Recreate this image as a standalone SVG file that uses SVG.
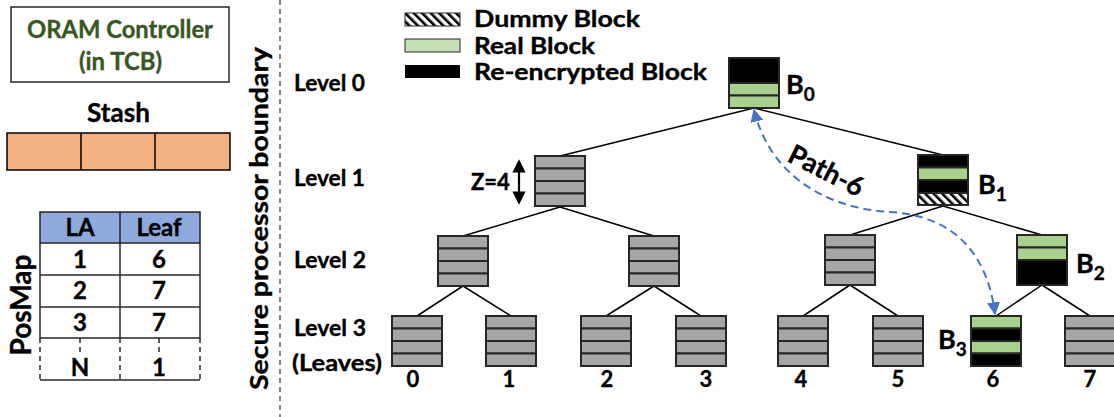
<svg xmlns="http://www.w3.org/2000/svg" width="1114" height="417" viewBox="0 0 1114 417">
  <style>
    text { font-family: Lato, "Liberation Sans", sans-serif; font-weight: bold; fill: #000; stroke: #000; stroke-width: 0.35; }
    .lvl { font-size: 22px; }
    .leg { font-size: 22px; }
    .num { font-size: 22px; text-anchor: middle; }
    .cell { font-size: 24px; text-anchor: middle; }
    .blab { font-size: 27px; }
    .sub { font-size: 19px; }
    .edge { stroke: #000; stroke-width: 1.5; fill: none; }
    .bx { stroke: #262626; stroke-width: 2; }
    .gray { fill: #A6A6A6; }
    .green { fill: #A9D18E; }
    .black { fill: #000; }
    .hatch { fill: url(#hatch); }
    .olive { fill: #385723; stroke: #385723; }
  </style>
  <defs>
    <pattern id="hatch" patternUnits="userSpaceOnUse" width="6" height="6" patternTransform="rotate(-45)">
      <rect width="6" height="6" fill="#fff"/>
      <rect width="2.6" height="6" fill="#000"/>
    </pattern>
    <!-- generic 4-slot bucket (Z=4), 50x50 -->
    <g id="bucket">
      <rect class="bx gray" x="0" y="0" width="50" height="12.5"/>
      <rect class="bx gray" x="0" y="12.5" width="50" height="12.5"/>
      <rect class="bx gray" x="0" y="25" width="50" height="12.5"/>
      <rect class="bx gray" x="0" y="37.5" width="50" height="12.5"/>
    </g>
    <marker id="blueHead" viewBox="0 0 10 10" refX="9" refY="5" markerWidth="6.5" markerHeight="6.5" orient="auto-start-reverse" markerUnits="strokeWidth">
      <path d="M0,0 L10,5 L0,10 z" fill="#4472C4"/>
    </marker>
    <marker id="blackHead" viewBox="0 0 10 10" refX="8" refY="5" markerWidth="6" markerHeight="6" orient="auto-start-reverse" markerUnits="strokeWidth">
      <path d="M0,0 L10,5 L0,10 z" fill="#000"/>
    </marker>
  </defs>

  <rect width="1114" height="417" fill="#fff"/>

  <!-- controller box -->
  <g id="controller">
    <rect x="11" y="7" width="218" height="75" fill="#fff" stroke="#262626" stroke-width="1.5"/>
    <text class="olive" x="27" y="38" font-size="24" textLength="186" lengthAdjust="spacingAndGlyphs">ORAM Controller</text>
    <text class="olive" x="79" y="70" font-size="24" textLength="83" lengthAdjust="spacingAndGlyphs">(in TCB)</text>
  </g>

  <!-- stash -->
  <g id="stash">
    <text x="87" y="122" font-size="26" textLength="63" lengthAdjust="spacingAndGlyphs">Stash</text>
    <rect x="7" y="133" width="223" height="37" fill="#F4B183" stroke="#000" stroke-width="1.5"/>
    <line x1="81" y1="133" x2="81" y2="170" stroke="#000" stroke-width="1.5"/>
    <line x1="155" y1="133" x2="155" y2="170" stroke="#000" stroke-width="1.5"/>
  </g>

  <!-- position map -->
  <g id="posmap">
    <text transform="translate(31,305) rotate(-90)" text-anchor="middle" font-size="28">PosMap</text>
    <rect x="40" y="212" width="160" height="31" fill="#8FAADC"/>
    <g stroke="#262626" stroke-width="1.5" fill="none">
      <rect x="40" y="212" width="160" height="126"/>
      <line x1="40" y1="243" x2="200" y2="243"/>
      <line x1="40" y1="275" x2="200" y2="275"/>
      <line x1="40" y1="307" x2="200" y2="307"/>
      <line x1="120" y1="212" x2="120" y2="338"/>
      <line x1="40" y1="380" x2="200" y2="380"/>
    </g>
    <g stroke="#262626" stroke-width="1.5" stroke-dasharray="5,4" fill="none">
      <line x1="40" y1="338" x2="40" y2="380"/>
      <line x1="120" y1="338" x2="120" y2="380"/>
      <line x1="200" y1="338" x2="200" y2="380"/>
      <line x1="80" y1="338" x2="80" y2="354"/>
      <line x1="159" y1="338" x2="159" y2="354"/>
    </g>
    <text class="cell" x="80" y="236">LA</text>
    <text class="cell" x="159" y="236">Leaf</text>
    <text class="cell" x="80" y="268">1</text>
    <text class="cell" x="159" y="268">6</text>
    <text class="cell" x="80" y="299">2</text>
    <text class="cell" x="159" y="299">7</text>
    <text class="cell" x="80" y="331">3</text>
    <text class="cell" x="159" y="331">7</text>
    <text class="cell" x="80" y="376">N</text>
    <text class="cell" x="159" y="376">1</text>
  </g>

  <!-- secure processor boundary -->
  <g id="boundary">
    <line x1="280" y1="0" x2="280" y2="417" stroke="#595959" stroke-width="1.5" stroke-dasharray="5,4"/>
    <text transform="translate(268,390) rotate(-90)" font-size="25" textLength="343" lengthAdjust="spacingAndGlyphs">Secure processor boundary</text>
  </g>

  <!-- level labels -->
  <g id="levels">
    <text class="lvl" x="294" y="91" textLength="71" lengthAdjust="spacingAndGlyphs">Level 0</text>
    <text class="lvl" x="294" y="186" textLength="71" lengthAdjust="spacingAndGlyphs">Level 1</text>
    <text class="lvl" x="294" y="268" textLength="72" lengthAdjust="spacingAndGlyphs">Level 2</text>
    <text class="lvl" x="294" y="336" textLength="72" lengthAdjust="spacingAndGlyphs">Level 3</text>
    <text class="lvl" x="292" y="371" textLength="90" lengthAdjust="spacingAndGlyphs">(Leaves)</text>
  </g>

  <!-- legend -->
  <g id="legend">
    <rect x="405" y="13" width="55" height="13" class="hatch" stroke="#262626" stroke-width="1"/>
    <text class="leg" x="474" y="27" textLength="166" lengthAdjust="spacingAndGlyphs">Dummy Block</text>
    <rect x="405" y="39" width="55" height="13" fill="#C5E0B4" stroke="#262626" stroke-width="1"/>
    <text class="leg" x="474" y="54" textLength="121" lengthAdjust="spacingAndGlyphs">Real Block</text>
    <rect x="405" y="65" width="55" height="13" fill="#000"/>
    <text class="leg" x="474" y="80" textLength="233" lengthAdjust="spacingAndGlyphs">Re-encrypted Block</text>
  </g>

  <!-- tree edges -->
  <g id="connectors">
    <line class="edge" x1="754" y1="108" x2="560" y2="156"/>
    <line class="edge" x1="754" y1="108" x2="943" y2="155"/>
    <line class="edge" x1="560" y1="207" x2="463" y2="236"/>
    <line class="edge" x1="560" y1="207" x2="654" y2="236"/>
    <line class="edge" x1="943" y1="206" x2="850" y2="235"/>
    <line class="edge" x1="943" y1="206" x2="1042" y2="235"/>
    <line class="edge" x1="463" y1="286" x2="417" y2="316"/>
    <line class="edge" x1="463" y1="286" x2="511" y2="316"/>
    <line class="edge" x1="654" y1="286" x2="606" y2="316"/>
    <line class="edge" x1="654" y1="286" x2="701" y2="316"/>
    <line class="edge" x1="850" y1="285" x2="803" y2="316"/>
    <line class="edge" x1="850" y1="285" x2="898" y2="316"/>
    <line class="edge" x1="1042" y1="285" x2="996" y2="316"/>
    <line class="edge" x1="1042" y1="285" x2="1090" y2="316"/>
    <!-- accessed path -->
    <path d="M 754,110 C 772,182 835,209 890,212 C 958,216 988,258 995,314" fill="none" stroke="#4472C4" stroke-width="2" stroke-dasharray="8,5" marker-start="url(#blueHead)" marker-end="url(#blueHead)"/>
  </g>

  <!-- level 0 -->
  <g id="b0">
    <rect class="bx black" x="729" y="58" width="50" height="25"/>
    <rect class="bx green" x="729" y="83" width="50" height="12.5"/>
    <rect class="bx green" x="729" y="95.5" width="50" height="12.5"/>
    <text class="blab" x="786" y="94">B<tspan class="sub" dy="7">0</tspan></text>
  </g>

  <!-- level 1 -->
  <g id="n1a">
    <use href="#bucket" x="535" y="156"/>
    <text font-size="22" x="471" y="190">Z=4</text>
    <line x1="519" y1="162" x2="519" y2="202" stroke="#000" stroke-width="2.2" marker-start="url(#blackHead)" marker-end="url(#blackHead)"/>
  </g>
  <g id="b1">
    <rect class="bx black" x="918" y="155" width="50" height="12.5"/>
    <rect class="bx green" x="918" y="167.5" width="50" height="12.5"/>
    <rect class="bx black" x="918" y="180" width="50" height="13"/>
    <rect class="bx hatch" x="918" y="193" width="50" height="12"/>
    <text class="blab" x="978" y="194">B<tspan class="sub" dy="7">1</tspan></text>
  </g>

  <!-- level 2 -->
  <g id="n2a"><use href="#bucket" x="438" y="236"/></g>
  <g id="n2b"><use href="#bucket" x="629" y="236"/></g>
  <g id="n2c"><use href="#bucket" x="825" y="235"/></g>
  <g id="b2">
    <rect class="bx green" x="1017" y="235" width="50" height="12.5"/>
    <rect class="bx green" x="1017" y="247.5" width="50" height="12.5"/>
    <rect class="bx black" x="1017" y="260" width="50" height="25"/>
    <text class="blab" x="1076" y="273">B<tspan class="sub" dy="7">2</tspan></text>
  </g>

  <!-- level 3 (leaves) -->
  <g id="leaf0"><use href="#bucket" x="392" y="316"/><text class="num" x="413" y="387">0</text></g>
  <g id="leaf1"><use href="#bucket" x="486" y="316"/><text class="num" x="509" y="387">1</text></g>
  <g id="leaf2"><use href="#bucket" x="581" y="316"/><text class="num" x="607" y="387">2</text></g>
  <g id="leaf3"><use href="#bucket" x="676" y="316"/><text class="num" x="706" y="387">3</text></g>
  <g id="leaf4"><use href="#bucket" x="778" y="316"/><text class="num" x="801" y="387">4</text></g>
  <g id="leaf5"><use href="#bucket" x="873" y="316"/><text class="num" x="898" y="387">5</text></g>
  <g id="leaf6">
    <rect class="bx green" x="971" y="316" width="50" height="12.5"/>
    <rect class="bx black" x="971" y="328.5" width="50" height="12.5"/>
    <rect class="bx green" x="971" y="341" width="50" height="12.5"/>
    <rect class="bx black" x="971" y="353.5" width="50" height="12.5"/>
    <text class="blab" x="938" y="349">B<tspan class="sub" dy="7">3</tspan></text>
    <text class="num" x="993" y="387">6</text>
  </g>
  <g id="leaf7"><use href="#bucket" x="1065" y="316"/><text class="num" x="1090" y="387">7</text></g>

  <!-- path label -->
  <g id="pathlabel">
    <text transform="translate(822,179) rotate(27)" text-anchor="middle" font-size="27">Path-6</text>
  </g>
</svg>
